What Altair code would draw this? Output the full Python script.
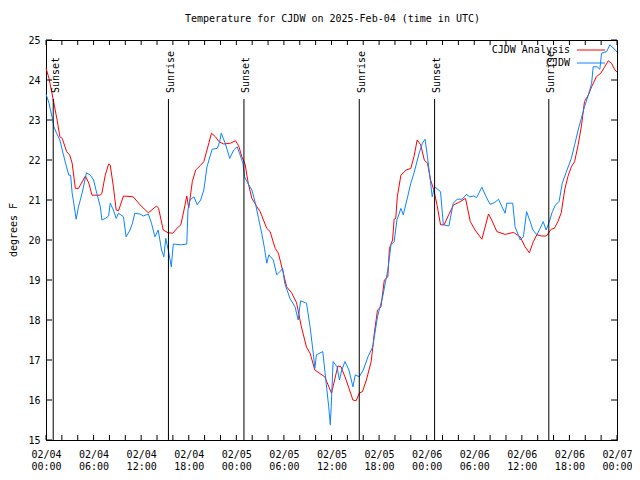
import altair as alt
import pandas as pd
from datetime import datetime, timedelta

# ---------------- data (hours after 2025-02-04 00:00 UTC, degrees F) ----------------
ana_hours = [0.0, 0.38, 1.0, 1.4, 1.75, 2.05, 2.6, 3.0, 3.3, 3.7, 4.1, 4.97, 5.4, 5.8, 6.85, 7.05,
             7.47, 7.9, 8.1, 8.5, 8.85, 9.14, 9.77, 11.0, 11.85, 12.9, 13.94, 14.2, 14.78, 15.4, 16.0,
             16.4, 17.0, 17.4, 17.75, 18.0, 18.45, 18.87, 19.5, 19.9, 20.3, 20.87, 21.37, 21.8, 22.4,
             23.25, 23.9, 24.3, 24.7, 25.1, 25.5, 25.96, 26.6, 27.0, 27.84, 28.26, 28.9, 29.3, 29.93,
             30.34, 30.97, 31.6, 32.2, 32.85, 33.3, 33.9, 35.15, 36.0, 36.8, 37.2, 37.85, 38.7, 39.1,
             39.5, 39.9, 40.4, 41.0, 41.4, 41.8, 42.24, 42.66, 43.1, 43.3, 43.7, 43.9, 44.1, 44.3,
             44.75, 45.4, 46.0, 46.4, 46.8, 47.25, 47.7, 48.1, 48.5, 48.9, 49.3, 49.75, 50.2, 50.8,
             51.4, 52.05, 52.9, 53.5, 54.1, 54.96, 55.8, 56.2, 56.85, 57.9, 58.95, 59.8, 60.4, 60.95,
             61.45, 61.9, 62.5, 63.1, 63.7, 64.1, 64.55, 64.97, 65.4, 65.8, 66.24, 66.66, 67.1, 67.5,
             67.9, 68.4, 68.8, 69.4, 69.95, 70.45, 70.9, 71.3, 71.74, 72.0]
ana_temps = [24.3, 24.04, 23.42, 23.0, 22.58, 22.54, 22.21, 22.12, 21.92, 21.29, 21.29, 21.6, 21.42,
             21.12, 21.12, 21.17, 21.62, 21.9, 21.87, 21.33, 20.75, 20.73, 21.1, 21.08, 20.88, 20.68,
             20.85, 20.79, 20.25, 20.18, 20.17, 20.27, 20.38, 20.75, 21.1, 20.8, 21.46, 21.75, 21.87,
             21.96, 22.25, 22.67, 22.58, 22.46, 22.4, 22.42, 22.48, 22.35, 22.08, 21.9, 21.42, 21.04,
             20.83, 20.71, 20.29, 20.21, 19.79, 19.67, 19.17, 18.83, 18.68, 18.43, 17.83, 17.32, 17.17,
             16.75, 16.58, 16.17, 16.85, 16.83, 16.5, 16.0, 15.98, 16.17, 16.21, 16.5, 16.96, 17.67,
             18.25, 18.33, 19.0, 19.08, 19.79, 20.0, 20.52, 20.54, 21.08, 21.62, 21.75, 21.79, 22.08,
             22.5, 22.38, 22.0, 21.92, 21.5, 21.25, 20.88, 20.38, 20.38, 20.64, 20.88, 20.94, 21.04,
             20.46, 20.25, 20.02, 20.65, 20.5, 20.21, 20.14, 20.19, 20.08, 19.83, 19.68, 19.96, 20.13,
             20.1, 20.1, 20.27, 20.29, 20.46, 20.68, 21.25, 21.58, 21.83, 21.96, 22.38, 22.83, 23.46,
             23.63, 23.83, 24.08, 24.17, 24.33, 24.48, 24.42, 24.25, 24.2]

obs_hours = [0.0, 0.38, 0.8, 1.0, 1.33, 1.75, 2.05, 2.46, 2.88, 3.1, 3.3, 3.5, 3.8, 4.1, 4.55, 5.1,
             5.6, 6.0, 6.4, 6.85, 7.05, 7.47, 7.9, 8.1, 8.5, 8.85, 9.14, 9.77, 10.1, 10.6, 10.9, 11.2,
             11.85, 12.27, 12.9, 13.3, 13.74, 14.15, 14.57, 14.86, 15.1, 15.5, 15.8, 16.05, 17.0,
             17.75, 17.9, 18.15, 18.66, 19.07, 19.5, 19.9, 20.3, 20.95, 21.6, 21.9, 22.1, 22.6, 23.17,
             23.67, 24.1, 24.4, 24.83, 25.04, 25.33, 25.96, 26.4, 26.8, 27.2, 27.55, 27.84, 28.1,
             28.66, 29.1, 29.5, 29.84, 30.1, 30.76, 31.4, 31.8, 32.1, 32.85, 33.3, 33.7, 33.9, 34.1,
             34.9, 35.35, 35.65, 35.85, 36.0, 36.2, 36.7, 37.0, 37.3, 37.7, 38.2, 38.7, 39.0, 39.5,
             40.0, 40.6, 41.2, 41.8, 42.45, 43.1, 43.5, 43.9, 44.25, 44.75, 45.05, 45.6, 46.0, 46.4,
             47.05, 47.46, 47.8, 48.1, 48.5, 48.7, 49.0, 49.75, 50.1, 50.8, 51.35, 51.85, 52.5, 53.0,
             53.45, 53.95, 54.3, 54.96, 55.5, 56.0, 56.6, 57.06, 57.5, 57.9, 58.1, 58.85, 59.15, 59.8,
             60.2, 60.6, 61.05, 61.4, 61.9, 62.3, 62.7, 63.06, 63.4, 63.85, 64.25, 64.7, 65.1, 65.55,
             66.24, 66.66, 67.1, 67.5, 67.9, 68.4, 68.8, 69.0, 69.5, 69.84, 70.05, 70.7, 71.1, 71.8,
             72.0]
obs_temps = [23.65, 23.42, 23.04, 22.83, 22.67, 22.5, 22.25, 21.92, 21.62, 21.62, 21.17, 20.92, 20.52,
             20.83, 21.17, 21.68, 21.62, 21.5, 21.17, 20.83, 20.5, 20.54, 20.6, 20.92, 20.75, 20.54,
             20.67, 20.58, 20.08, 20.25, 20.42, 20.67, 20.65, 20.6, 20.65, 20.42, 20.08, 20.25, 19.75,
             19.58, 20.04, 19.67, 19.33, 19.9, 19.88, 19.9, 20.75, 21.0, 21.08, 20.88, 21.0, 21.25,
             21.83, 22.27, 22.29, 22.46, 22.67, 22.42, 22.04, 22.25, 22.33, 22.17, 21.92, 21.58, 21.46,
             21.25, 20.92, 20.54, 20.17, 19.79, 19.42, 19.63, 19.5, 19.13, 19.21, 19.29, 18.92, 18.54,
             18.33, 18.0, 18.48, 18.42, 17.83, 17.17, 16.79, 17.13, 17.21, 16.38, 15.83, 15.38, 16.0,
             16.96, 16.83, 16.5, 16.75, 16.96, 16.75, 16.33, 16.63, 16.58, 16.75, 17.08, 17.33, 18.08,
             18.58, 19.25, 19.88, 19.96, 20.5, 20.79, 20.63, 21.08, 21.42, 21.67, 22.17, 22.42, 22.52,
             22.08, 21.42, 21.08, 21.33, 21.21, 20.38, 20.35, 20.92, 21.02, 21.02, 21.14, 21.08, 21.1,
             21.06, 21.32, 21.08, 20.89, 20.94, 21.02, 20.83, 20.67, 20.92, 20.92, 20.33, 20.0, 20.08,
             20.71, 20.46, 20.25, 20.13, 20.29, 20.46, 20.25, 20.42, 20.71, 20.88, 20.96, 21.42, 21.67,
             22.04, 22.38, 22.75, 23.04, 23.33, 23.63, 23.92, 24.33, 24.33, 24.27, 24.67, 24.71, 24.88,
             24.75, 24.7]

sun_hours = [0.91, 15.44, 24.96, 39.5, 49.0, 63.4]
sun_labels = ["Sunset", "Sunrise", "Sunset", "Sunrise", "Sunset", "Sunrise"]

x_tick_hours = list(range(0, 73, 2))
x_label_hours = list(range(0, 73, 6))
y_ticks = list(range(15, 26))

series_names = ["CJDW Analysis", "CJDW"]
series_colors = ["#ff0000", "#0a84ff"]
legend_rows = [0, 1]

title_text = "Temperature for CJDW on 2025-Feb-04 (time in UTC)"
y_title = "degrees F"

FONT = "DejaVu Sans Mono"
FS = 10
W, H = 571, 400

base = datetime(2025, 2, 4, 0, 0, 0)


def iso(h):
    return (base + timedelta(hours=h)).strftime("%Y-%m-%dT%H:%M:%S") + "Z"


def dt(h):
    d = base + timedelta(hours=h)
    return alt.DateTime(year=d.year, month=d.month, date=d.day, hours=d.hour, utc=True)


ana_df = pd.DataFrame({"t": [iso(h) for h in ana_hours], "temp": ana_temps})
obs_df = pd.DataFrame({"t": [iso(h) for h in obs_hours], "temp": obs_temps})
sun_df = pd.DataFrame({"t": [iso(h) for h in sun_hours], "label": sun_labels})
xt_df = pd.DataFrame({"t": [iso(h) for h in x_tick_hours]})
yt_df = pd.DataFrame({"temp": y_ticks})
leg_df = pd.DataFrame({"name": series_names, "color": series_colors, "row": legend_rows})

xscale = alt.Scale(type="utc", domain=[dt(0), dt(72)], nice=False)
yscale = alt.Scale(domain=[15, 25], nice=False, zero=False)

xaxis = alt.Axis(
    values=[dt(h) for h in x_label_hours],
    labelExpr="[utcFormat(datum.value, '%m/%d'), utcFormat(datum.value, '%H:%M')]",
    ticks=False, tickSize=0, domain=False, grid=False, labelPadding=9,
    labelFont=FONT, labelFontSize=FS, labelColor="black", labelLineHeight=12,
    labelFlush=False, labelOverlap=False, labelBaseline="top", title=None,
)
yaxis = alt.Axis(
    values=y_ticks, ticks=False, tickSize=0, domain=False, grid=False, labelPadding=6,
    labelFont=FONT, labelFontSize=FS, labelColor="black", labelFlush=False,
    labelOverlap=False, title=None,
)

X = alt.X("t:T", scale=xscale, axis=xaxis)
Y = alt.Y("temp:Q", scale=yscale, axis=yaxis)

ana_line = alt.Chart(ana_df).mark_line(color=series_colors[0], strokeWidth=1).encode(x=X, y=Y)
obs_line = alt.Chart(obs_df).mark_line(color=series_colors[1], strokeWidth=1).encode(x=X, y=Y)

sun_rules = alt.Chart(sun_df).mark_rule(color="black", strokeWidth=1).encode(
    x=X, y=alt.value(59), y2=alt.value(H))
sun_text = alt.Chart(sun_df).mark_text(
    angle=270, align="left", baseline="alphabetic", dy=5.5, font=FONT, fontSize=FS, color="black"
).encode(x=X, y=alt.value(53), text="label:N")

xt_bottom = alt.Chart(xt_df).mark_rule(color="black", strokeWidth=1).encode(
    x=X, y=alt.value(H), y2=alt.value(H - 5))
xt_top = alt.Chart(xt_df).mark_rule(color="black", strokeWidth=1).encode(
    x=X, y=alt.value(0), y2=alt.value(5))
yt_left = alt.Chart(yt_df).mark_rule(color="black", strokeWidth=1).encode(
    y=Y, x=alt.value(0), x2=alt.value(6))
yt_right = alt.Chart(yt_df).mark_rule(color="black", strokeWidth=1).encode(
    y=Y, x=alt.value(W), x2=alt.value(W - 6))

legend_y = alt.Y("row:Q", scale=alt.Scale(domain=[0, 1], range=[10, 23]), axis=None)
leg_text = alt.Chart(leg_df).mark_text(
    align="right", baseline="middle", font=FONT, fontSize=FS, color="black"
).encode(x=alt.value(W - 47), y=legend_y, text="name:N")
leg_lines = alt.Chart(leg_df).mark_rule(strokeWidth=1).encode(
    x=alt.value(W - 40), x2=alt.value(W - 12), y=legend_y,
    color=alt.Color("color:N", scale=None))

title_mark = alt.Chart(pd.DataFrame({"s": [title_text]})).mark_text(
    align="center", baseline="middle", font=FONT, fontSize=FS, color="black"
).encode(x=alt.value(W / 2 + 1), y=alt.value(-21), text="s:N")
ytitle_mark = alt.Chart(pd.DataFrame({"s": [y_title]})).mark_text(
    align="center", baseline="middle", angle=270, font=FONT, fontSize=FS, color="black"
).encode(x=alt.value(-32), y=alt.value(H / 2 - 10), text="s:N")

main = alt.layer(ana_line, obs_line, sun_rules, sun_text, xt_bottom, xt_top, yt_left, yt_right)
legend = alt.layer(leg_lines, leg_text)
texts = alt.layer(title_mark, ytitle_mark)

chart = alt.layer(main, legend, texts).resolve_scale(y="independent").properties(
    width=W, height=H,
    autosize=alt.AutoSizeParams(type="none"),
    padding={"left": 38, "top": 32, "right": 15, "bottom": 32},
    background="white",
).configure_view(stroke="black", strokeWidth=1)

chart.save("out.html", embed_options={"renderer": "svg", "actions": False})
